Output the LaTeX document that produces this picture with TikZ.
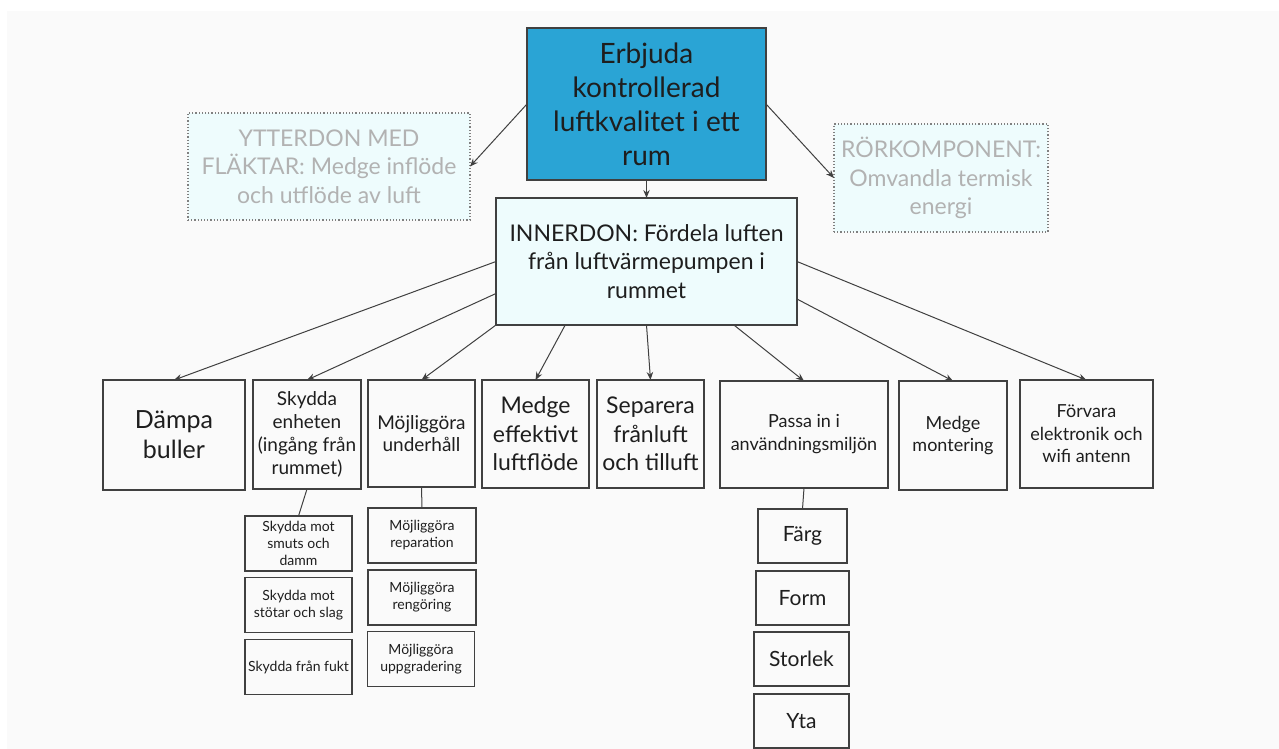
\documentclass[tikz,border=0pt]{standalone}
\usepackage{fontspec}
\setmainfont{Lato}
\usetikzlibrary{arrows.meta}
\definecolor{goalblue}{RGB}{42,164,213}
\definecolor{paleaqua}{RGB}{238,252,253}
\definecolor{fadedtext}{RGB}{178,178,178}
\definecolor{linegray}{RGB}{64,64,64}
\definecolor{pagegray}{RGB}{250,250,250}
\definecolor{inkblack}{RGB}{30,30,30}

\begin{document}
\begin{tikzpicture}[x=0.5pt, y=-0.5pt,
  box/.style={draw=linegray, line width=0.7pt, align=center, inner sep=1pt, outer sep=0pt, text=inkblack},
  faded/.style={box, draw=gray, line width=0.6pt, densely dotted, fill=paleaqua, text=fadedtext, font=\fontsize{11.5}{14.25}\selectfont},
  sub/.style={box, minimum width=53.5pt, minimum height=27.5pt, font=\fontsize{7}{8.5}\selectfont},
  look/.style={box, minimum height=27pt, font=\fontsize{10.5}{12.5}\selectfont},
  mid/.style={box, minimum height=54pt},
  arr/.style={draw=linegray, line width=0.5pt, -{Stealth[length=4pt, width=3.2pt]}},
  tie/.style={draw=linegray, line width=0.5pt}]
\useasboundingbox (0,0) rectangle (1279,749);
\fill [pagegray] (7,11) rectangle (1279,749);

% top levels
\node (goal) [box, fill=goalblue, minimum width=119.5pt, minimum height=76pt, font=\fontsize{14}{17}\selectfont] at (646.5,104) {Erbjuda\\kontrollerad\\luftkvalitet i ett\\rum};
\node (outdoor) [faded, minimum width=141pt, minimum height=53.5pt] at (329,166.5) {YTTERDON MED\\FLÄKTAR: Medge inflöde\\och utflöde av luft};
\node (pipe) [faded, minimum width=107pt, minimum height=54pt] at (941,178) {RÖRKOMPONENT:\\Omvandla termisk\\energi};
\node (indoor) [box, fill=paleaqua, minimum width=150.5pt, minimum height=63.5pt, font=\fontsize{11.5}{14.25}\selectfont] at (646.5,261.5) {INNERDON: Fördela luften\\från luftvärmepumpen i\\rummet};

% functions
\node (noise) [mid, minimum width=71pt, minimum height=55pt, font=\fontsize{12.5}{15}\selectfont] at (174,435) {Dämpa\\buller};
\node (protect) [mid, minimum width=54pt, minimum height=54.5pt, font=\fontsize{9.5}{11.5}\selectfont] at (307,434.5) {Skydda\\enheten\\(ingång från\\rummet)};
\node (service) [mid, minimum width=53.5pt, minimum height=53.5pt, font=\fontsize{9.5}{11}\selectfont] at (421.5,433.5) {Möjliggöra\\underhåll};
\node (flow) [mid, minimum width=53.5pt, font=\fontsize{11.5}{14.25}\selectfont] at (535.5,434) {Medge\\effektivt\\luftflöde};
\node (separate) [mid, minimum width=53.5pt, font=\fontsize{11.5}{14.25}\selectfont] at (650.5,434) {Separera\\frånluft\\och tilluft};
\node (fit) [mid, minimum width=84pt, minimum height=53.5pt, font=\fontsize{9}{11.5}\selectfont] at (804,434.5) {Passa in i\\användningsmiljön};
\node (mount) [mid, minimum width=54pt, minimum height=54.5pt, font=\fontsize{9}{11}\selectfont] at (953,435.5) {Medge\\montering};
\node (store) [mid, minimum width=66.5pt, font=\fontsize{9}{11.25}\selectfont] at (1086.5,434) {Förvara\\elektronik och\\wifi antenn};

% sub functions
\node (dust) [sub] at (298.5,543.5) {Skydda mot\\smuts och\\damm};
\node (impact) [sub] at (298.5,605) {Skydda mot\\stötar och slag};
\node (damp) [sub] at (298.5,667) {Skydda från fukt};
\node (repair) [sub, minimum width=54pt] at (422,535.5) {Möjliggöra\\reparation};
\node (clean) [sub, minimum width=54pt] at (422,597.5) {Möjliggöra\\rengöring};
\node (upgrade) [sub] at (421,659) {Möjliggöra\\uppgradering};
\node (colour) [look, minimum width=44.5pt] at (802.5,536) {Färg};
\node (shape) [look, minimum width=46.5pt] at (802.5,598) {Form};
\node (size) [look, minimum width=47.5pt] at (801.5,659) {Storlek};
\node (surface) [look, minimum width=47.5pt] at (801.5,721) {Yta};

\draw [arr] (goal.west) -- (outdoor.east);
\draw [arr] (goal.east) -- (pipe.west);
\draw [arr] (goal.south) -- (indoor.north);

\draw [arr] (indoor.west) -- (noise.north);
\draw [arr] (indoor.192) -- (protect.north);
\draw [arr] (indoor.south west) -- (service.north);
\draw [arr] (indoor.218) -- (flow.north);
\draw [arr] (indoor.south) -- (separate.north);
\draw [arr] (indoor.324) -- (fit.north);
\draw [arr] (indoor.346) -- (mount.north);
\draw [arr] (indoor.east) -- (store.north);

\draw [tie] (protect.south) -- (dust.north);
\draw [tie] (service.south) -- (repair.north);
\draw [tie] (fit.south) -- (colour.north);
\end{tikzpicture}
\end{document}
